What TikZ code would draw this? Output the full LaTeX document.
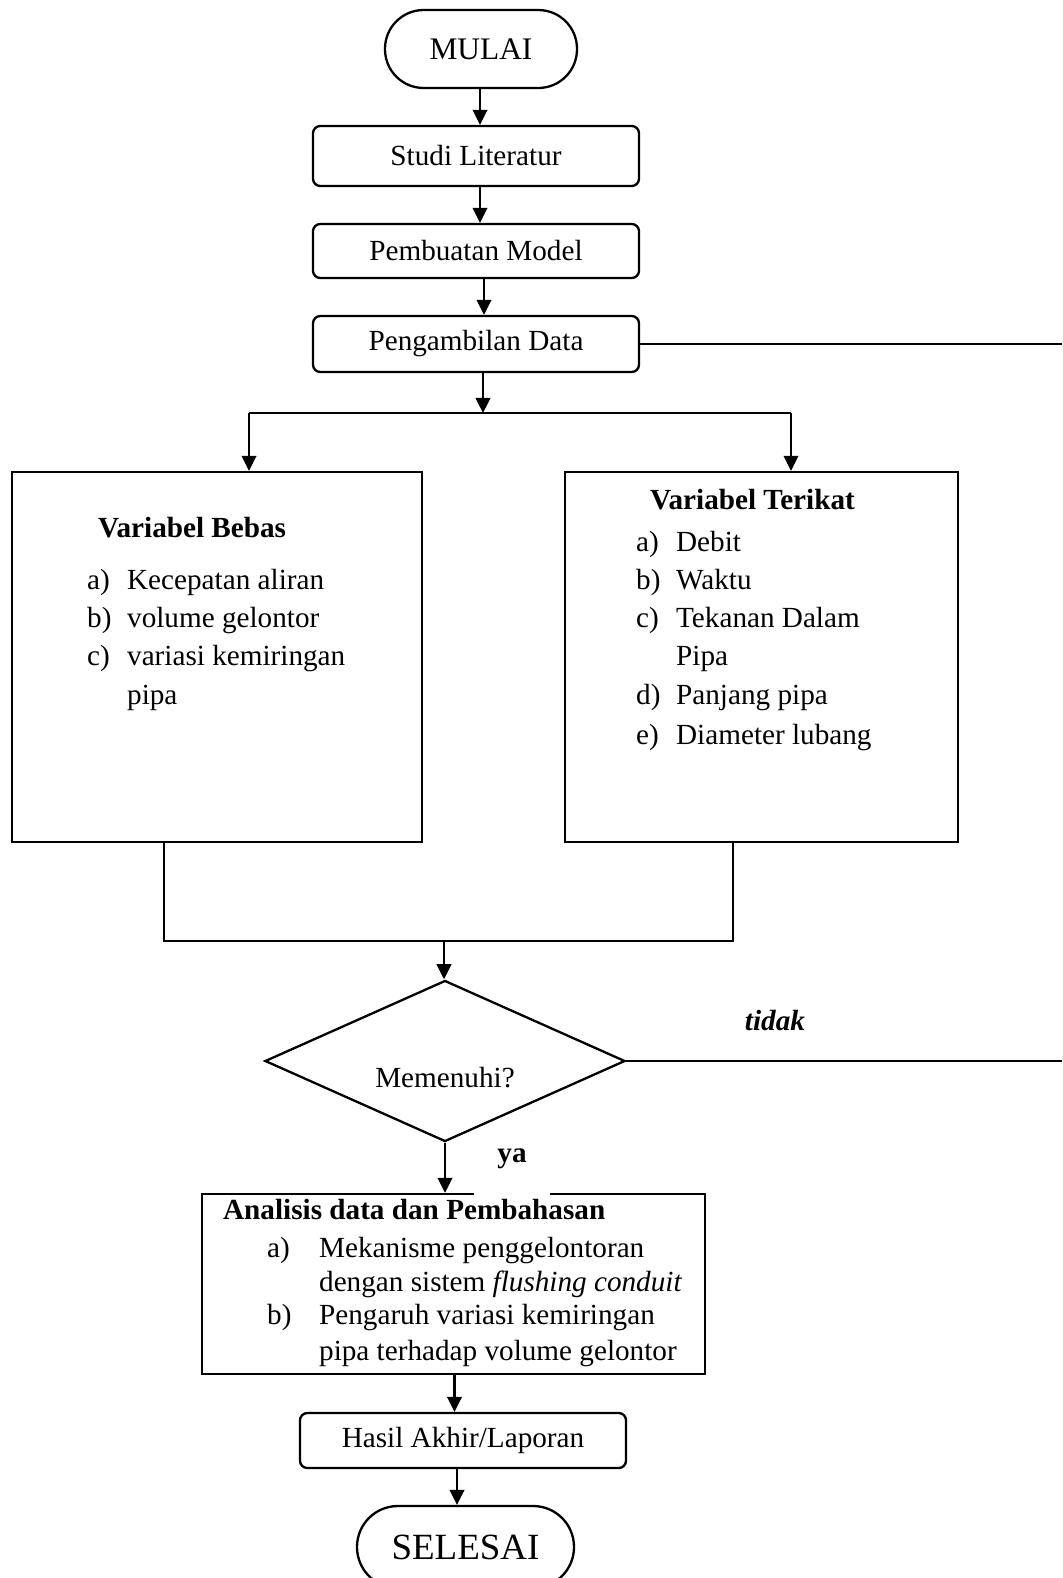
\documentclass[tikz,border=0pt]{standalone}
\usepackage{fontspec}
\setmainfont{Liberation Serif}
\usetikzlibrary{shapes.geometric,arrows.meta,calc}
\begin{document}
\begin{tikzpicture}[x=0.411pt,y=-0.411pt,
  line width=0.95pt,
  every node/.style={font=\fontsize{12}{14}\selectfont},
  boldtxt/.style={font=\fontsize{12}{14}\selectfont\bfseries},
  arr/.style={-{Triangle[length=6.2pt,width=6pt]}},
  capsule/.style={draw, inner sep=0, rounded corners=15.9pt},
  procbox/.style={draw, inner sep=0, rounded corners=3pt},
  plainbox/.style={draw, inner sep=0},
  txt/.style={anchor=base west, inner sep=0},
]
\path[use as bounding box] (0,0) rectangle (1062,1578);
\clip (0,0) rectangle (1062,1578);

% main boxes
\node[capsule, minimum width=192*0.411pt, minimum height=78*0.411pt, font=\fontsize{12.9}{15}\selectfont] (mulai) at (481,49) {MULAI};
\node[procbox, minimum width=326*0.411pt, minimum height=60*0.411pt] (studi) at (476,156) {Studi Literatur};
\node[procbox, minimum width=326*0.411pt, minimum height=54*0.411pt] (model) at (476,251) {Pembuatan Model};
\node[procbox, minimum width=326*0.411pt, minimum height=56*0.411pt] (ambil) at (476,344) {Pengambilan Data};
\node[plainbox, minimum width=410*0.411pt, minimum height=370*0.411pt] (bebas) at (217,657) {};
\node[plainbox, minimum width=393*0.411pt, minimum height=370*0.411pt] (terikat) at (761.5,657) {};
\node[draw, diamond, inner sep=0, minimum width=148pt, minimum height=66.2pt] (cek) at (445,1061) {};
\node[plainbox, minimum width=503*0.411pt, minimum height=180*0.411pt] (analisis) at (453.5,1284) {};
\node[procbox, minimum width=326*0.411pt, minimum height=55*0.411pt] (hasil) at (463,1440.5) {Hasil Akhir/Laporan};
\node[capsule, minimum width=217*0.411pt, minimum height=82*0.411pt, rounded corners=16.8pt, font=\fontsize{15.2}{18}\selectfont] (selesai) at (465.5,1547) {SELESAI};

% texts in left box
\node[txt, boldtxt] (bebasT) at (97,537) {Variabel Bebas};
\node[txt] (bl1) at (86,589) {a)};
\node[txt] (bt1) at (126,589) {Kecepatan aliran};
\node[txt] (bl2) at (86,627) {b)};
\node[txt] (bt2) at (126,627) {volume gelontor};
\node[txt] (bl3) at (86,665) {c)};
\node[txt] (bt3) at (126,665) {variasi kemiringan};
\node[txt] (bt3b) at (126,704) {pipa};

% texts in right box
\node[txt, boldtxt] (terikatT) at (649,509) {Variabel Terikat};
\node[txt] (rl1) at (635,551) {a)};
\node[txt] (rt1) at (675,551) {Debit};
\node[txt] (rl2) at (635,589) {b)};
\node[txt] (rt2) at (675,589) {Waktu};
\node[txt] (rl3) at (635,627) {c)};
\node[txt] (rt3) at (675,627) {Tekanan Dalam};
\node[txt] (rt3b) at (675,665) {Pipa};
\node[txt] (rl4) at (635,704) {d)};
\node[txt] (rt4) at (675,704) {Panjang pipa};
\node[txt] (rl5) at (635,744) {e)};
\node[txt] (rt5) at (675,744) {Diameter lubang};

% analysis texts
\node[txt, boldtxt] (analisisT) at (222,1219) {Analisis data dan Pembahasan};
\node[txt] (al1) at (266,1257) {a)};
\node[txt] (at1) at (318,1257) {Mekanisme penggelontoran};
\node[txt] (at1b) at (318,1291) {dengan sistem \textit{flushing conduit}};
\node[txt] (al2) at (266,1324) {b)};
\node[txt] (at2) at (318,1324) {Pengaruh variasi kemiringan};
\node[txt] (at2b) at (318,1360) {pipa terhadap volume gelontor};

% decision texts
\node[anchor=base, inner sep=0] (cektxt) at (445,1087) {Memenuhi?};
\node[anchor=base, inner sep=0, font=\fontsize{12}{14}\selectfont\bfseries\itshape] (tidak) at (775,1030) {tidak};
\node[anchor=base, inner sep=0, fill=white, minimum width=31.6pt, text height=9.45pt, text depth=13.56pt, font=\fontsize{12}{14}\selectfont\bfseries] (ya) at (512,1162) {ya};

% connector coordinates
\coordinate (r1) at (1062,346);
\coordinate (r2) at (1062,1061);
\coordinate (split) at (483,413);
\coordinate (sl) at (249,413);
\coordinate (sr) at (791,413);
\coordinate (ml) at (164,941);
\coordinate (mr) at (733,941);
\coordinate (mm) at (444,941);

% connectors
\draw[arr] ($(mulai.south)+(-1,0)$) -- ($(mulai.south|-studi.north)+(-1,0)$);
\draw[arr] ($(studi.south)+(4,0)$) -- ($(model.north)+(4,0)$);
\draw[arr] ($(model.south)+(8,0)$) -- ($(ambil.north)+(8,0)$);
\draw (ambil.east) -- (ambil.east -| r1);
\draw[arr] (ambil.south -| split) -- (split);
\draw (sl) -- (sr);
\draw[arr] (sl) -- (sl |- bebas.north);
\draw[arr] (sr) -- (sr |- terikat.north);
\draw (ml |- bebas.south) -- (ml) -- (mr) -- (mr |- terikat.south);
\draw[arr] (mm) -- (mm |- cek.north);
\draw (cek.east) -- (cek.east -| r2);
\draw[arr] (cek.south) -- (cek.south |- analisis.north);
\draw[arr] ($(analisis.south)+(1,0)$) -- ($(analisis.south|-hasil.north)+(1,0)$);
\draw[arr] ($(hasil.south)+(-6,0)$) -- ($(hasil.south|-selesai.north)+(-6,0)$);
\end{tikzpicture}
\end{document}
